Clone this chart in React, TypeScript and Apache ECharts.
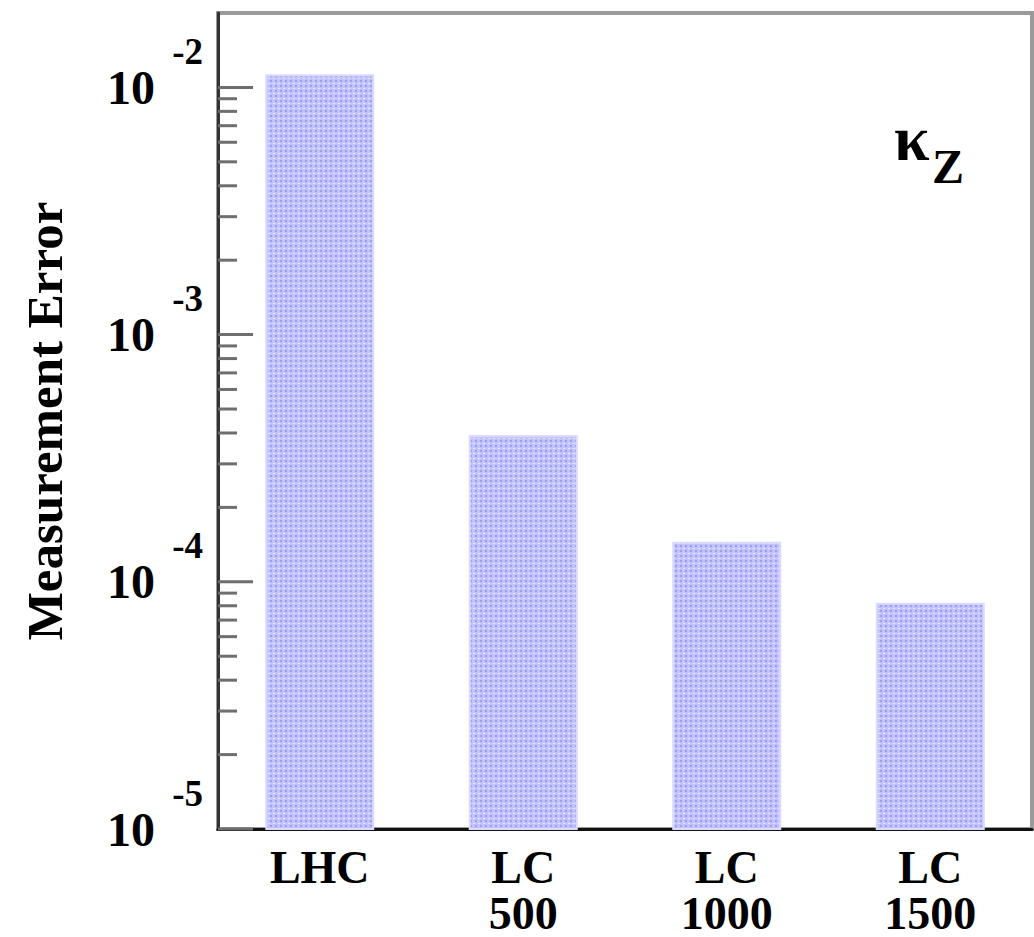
import React, { useEffect, useRef } from 'react';
import * as echarts from 'echarts';

// ---- data ----
const CATEGORIES: string[] = ['LHC', 'LC\n500', 'LC\n1000', 'LC\n1500'];
const ERRORS: number[] = [0.0112, 3.89e-4, 1.44e-4, 8.15e-5];
const Y_MIN = 1e-5;
const Y_MAX = 0.02;
const MAJOR_TICKS: number[] = [1e-5, 1e-4, 1e-3, 1e-2];
const MINOR_MULTIPLIERS: number[] = [2, 3, 4, 5, 6, 7, 8, 9];
const Y_TITLE = 'Measurement Error';
const PARAM_SYMBOL = 'κ';
const PARAM_SUB = 'Z';

const FONT = "'Liberation Serif', 'Times New Roman', serif";

function makePattern(): HTMLCanvasElement {
  const c = document.createElement('canvas');
  c.width = 5;
  c.height = 5;
  const ctx = c.getContext('2d')!;
  ctx.fillStyle = '#c2c2fe';
  ctx.fillRect(0, 0, 5, 5);
  ctx.fillStyle = '#9c9cf6';
  ctx.fillRect(0, 0, 2, 2);
  ctx.fillStyle = '#e6e6ff';
  ctx.fillRect(3, 3, 2, 1);
  return c;
}

export default function App() {
  const ref = useRef<HTMLDivElement>(null);

  useEffect(() => {
    if (!ref.current) return;
    const chart = echarts.init(ref.current, null, { renderer: 'svg' });
    const pattern = makePattern();

    const tickData: number[][] = [];
    MAJOR_TICKS.forEach((t) => {
      tickData.push([0, t, 35]);
      MINOR_MULTIPLIERS.forEach((m) => {
        const v = t * m;
        if (v < Y_MAX) tickData.push([0, v, 19]);
      });
    });

    const option: any = {
      animation: false,
      backgroundColor: '#ffffff',
      grid: {
        left: 218,
        right: 2,
        top: 13,
        bottom: 108,
        show: true,
        borderColor: '#9a9a9a',
        borderWidth: 4,
        backgroundColor: 'transparent',
      },
      xAxis: {
        type: 'category',
        data: CATEGORIES,
        axisLine: { show: true, lineStyle: { color: '#111', width: 3 } },
        axisTick: { show: false },
        splitLine: { show: false },
        axisLabel: {
          interval: 0,
          margin: 15,
          color: '#000',
          fontFamily: FONT,
          fontWeight: 'bold',
          fontSize: 46,
          lineHeight: 46,
          verticalAlign: 'top',
        },
      },
      yAxis: {
        type: 'log',
        logBase: 10,
        min: Y_MIN,
        max: Y_MAX,
        name: Y_TITLE,
        nameLocation: 'middle',
        nameGap: 148,
        nameTextStyle: {
          color: '#000',
          fontFamily: FONT,
          fontWeight: 'bold',
          fontSize: 51,
        },
        axisLine: { show: true, lineStyle: { color: '#333', width: 3 } },
        axisTick: { show: false },
        minorTick: { show: false },
        splitLine: { show: false },
        axisLabel: {
          customValues: MAJOR_TICKS,
          margin: 15,
          color: '#000',
          formatter: (v: number) => `{s|${Math.round(Math.log10(v))}}\n{b|10}\n{e| }`,
          rich: {
            s: { fontFamily: FONT, fontWeight: 'bold', fontSize: 37, lineHeight: 24, align: 'right', color: '#000' },
            b: { fontFamily: FONT, fontWeight: 'bold', fontSize: 48, lineHeight: 48, align: 'right', color: '#000', padding: [0, 48, 0, 0] },
            e: { fontSize: 10, lineHeight: 24, align: 'right' },
          },
        },
      },
      series: [
        {
          type: 'custom',
          name: 'bars',
          encode: { x: 0, y: 1 },
          data: ERRORS.map((v, i) => [i, v]),
          renderItem: (params: any, api: any) => {
            const idx = api.value(0);
            const val = api.value(1);
            const top = api.coord([idx, val]);
            const cs = params.coordSys;
            const band = api.size([1, val])[0];
            const w = band * 0.526;
            return {
              type: 'rect',
              shape: { x: top[0] - w / 2, y: top[1], width: w, height: cs.y + cs.height - top[1] },
              style: {
                fill: { image: pattern, repeat: 'repeat', imageWidth: 5, imageHeight: 5 },
                stroke: '#dadaff',
                lineWidth: 2,
              },
            };
          },
          z: 1,
        },
        {
          type: 'custom',
          name: 'ticks',
          encode: { x: 0, y: 1 },
          data: tickData,
          renderItem: (params: any, api: any) => {
            const val = api.value(1);
            const len = api.value(2);
            const y = api.coord([0, val])[1];
            const cs = params.coordSys;
            return {
              type: 'line',
              shape: { x1: cs.x, y1: y, x2: cs.x + len, y2: y },
              style: { stroke: '#6e6e6e', lineWidth: 3 },
            };
          },
          z: 2,
        },
      ],
      graphic: [
        {
          type: 'text',
          style: {
            x: 894,
            y: 138,
            text: PARAM_SYMBOL,
            font: `bold 64px ${FONT}`,
            fill: '#000',
            verticalAlign: 'middle',
          },
        },
        {
          type: 'text',
          style: {
            x: 932,
            y: 166,
            text: PARAM_SUB,
            font: `bold 48px ${FONT}`,
            fill: '#000',
            verticalAlign: 'middle',
          },
        },
      ],
    };

    chart.setOption(option);
    return () => chart.dispose();
  }, []);

  return (
    <div
      ref={ref}
      style={{ position: 'fixed', left: 0, top: 0, width: 1034, height: 937, background: '#fff' }}
    />
  );
}
